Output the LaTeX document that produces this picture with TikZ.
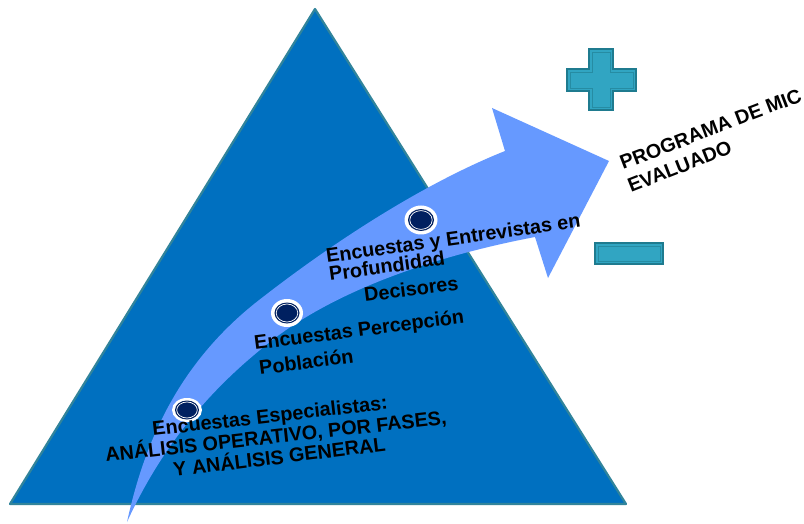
\documentclass[tikz,border=0pt]{standalone}
\usepackage{fontspec}
\setmainfont{Liberation Sans}
\definecolor{tri}{HTML}{0070C0}
\definecolor{triedge}{HTML}{31849B}
\definecolor{arr}{HTML}{6699FF}
\definecolor{dotc}{HTML}{002060}
\definecolor{pm}{HTML}{31A5C2}
\definecolor{pmedge}{HTML}{1F7B8F}
\begin{document}
\begin{tikzpicture}[x=1pt,y=-1pt,
  lbl/.style={anchor=base west, inner sep=0pt, font=\bfseries\fontsize{19.8}{20}\selectfont, text=black},
  pmshape/.style={fill=pm, draw=pmedge, line width=2.5pt, line join=miter},
  pminner/.style={draw=pmedge!60!pm, line width=0.8pt}]
\useasboundingbox (0,0) rectangle (804,524);
\fill[white] (0,0) rectangle (804,524);
% pyramid
\filldraw[fill=tri, draw=triedge, line width=2.2pt, line join=round] (315,9) -- (626,504) -- (10,504) -- cycle;
% curved arrow
\fill[arr] (127,522) .. controls (145,440) and (180,360) .. (263,297)
  .. controls (330,245) and (420,185) .. (505,151) -- (492,108) -- (609,161) -- (548,278) -- (535,237)
  .. controls (440,255) and (330,290) .. (260,350)
  .. controls (205,395) and (160,450) .. (127,522) -- cycle;
% dots
\fill[white] (187,410) ellipse [x radius=15pt, y radius=12pt];
\fill[dotc] (187,410) ellipse [x radius=12pt, y radius=9.5pt];
\draw[white, line width=0.7pt] (187,410) ellipse [x radius=10.3pt, y radius=8pt];
\fill[white] (287,313) ellipse [x radius=16pt, y radius=14pt];
\fill[dotc] (287,313) ellipse [x radius=12.5pt, y radius=10.5pt];
\draw[white, line width=0.7pt] (287,313) ellipse [x radius=10.8pt, y radius=9pt];
\fill[white] (421,220) ellipse [x radius=16.5pt, y radius=14.5pt];
\fill[dotc] (421,220) ellipse [x radius=13pt, y radius=11pt];
\draw[white, line width=0.7pt] (421,220) ellipse [x radius=11.2pt, y radius=9.4pt];
% labels
\node[lbl, rotate=8] (t1a) at (327,263) {Encuestas y Entrevistas en};
\node[lbl, rotate=8] (t1b) at (330,281) {Profundidad};
\node[lbl, rotate=7.5] (t2) at (365,302) {Decisores};
\node[lbl, rotate=7.3] (t3a) at (255,350) {Encuestas Percepción};
\node[lbl, rotate=7.5] (t3b) at (260,375) {Población};
\node[lbl, rotate=6.5] (t4a) at (153,436) {Encuestas Especialistas:};
\node[lbl, rotate=6.3] (t4b) at (106,462) {ANÁLISIS OPERATIVO, POR FASES,};
\node[lbl, rotate=7] (t4c) at (174,477) {Y ANÁLISIS GENERAL};
\node[lbl, rotate=21] (p1) at (623,170) {PROGRAMA DE MIC};
\node[lbl, rotate=21.5] (p2) at (631,193) {EVALUADO};
% plus
\filldraw[pmshape] (589,49) -- (613,49) -- (613,69) -- (636,69) -- (636,91) -- (613,91) -- (613,110) -- (589,110) -- (589,91) -- (567,91) -- (567,69) -- (589,69) -- cycle;
\draw[pminner] (592,52) -- (610,52) -- (610,72) -- (633,72) -- (633,88) -- (610,88) -- (610,107) -- (592,107) -- (592,88) -- (570,88) -- (570,72) -- (592,72) -- cycle;
% minus
\filldraw[pmshape] (595,243) rectangle (663,264);
\draw[pminner] (598,246) rectangle (660,261);
\end{tikzpicture}
\end{document}
